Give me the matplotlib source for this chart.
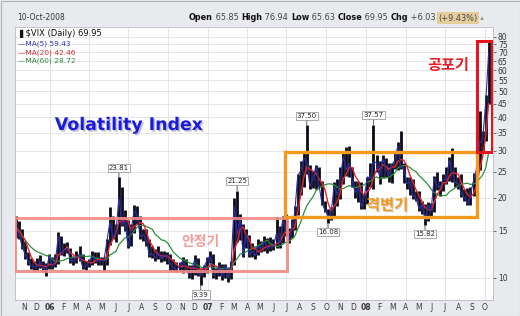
import numpy as np
import pandas as pd
import matplotlib
matplotlib.use('Agg')
import matplotlib.pyplot as plt
import matplotlib.patheffects as pe
from matplotlib.patches import Rectangle

plt.rcParams['font.family'] = ['DejaVu Sans']
KR = ['Noto Sans CJK KR', 'DejaVu Sans']

# weekly VIX bars (week ending Friday)
# 2005: Oct 14 .. Dec 30 (12 weeks)
hi_2005 = [17.0, 16.4, 15.2, 13.8, 12.5, 11.9, 11.6, 11.9, 12.2, 11.6, 11.4, 12.3]
lo_2005 = [14.1, 14.0, 12.8, 11.8, 11.2, 10.8, 10.6, 10.7, 10.9, 10.5, 10.2, 10.8]
cl_2005 = [15.4, 14.7, 13.2, 12.3, 11.6, 11.1, 11.0, 11.0, 11.5, 10.9, 10.6, 12.1]
# 2006 (52 weeks)
hi_2006 = [12.0, 12.3, 14.9, 14.4,
           13.5, 13.6, 13.0, 12.1,
           12.6, 13.2, 12.3, 11.6, 11.8,
           12.6, 12.5, 12.5, 12.0,
           12.0, 14.0, 18.5, 17.0,
           16.0, 23.81, 22.0, 18.0, 16.5,
           16.0, 18.7, 18.6, 17.0,
           15.3, 15.2, 14.0, 13.2,
           12.8, 13.2, 12.6, 12.6, 12.5,
           12.3, 11.8, 11.5, 11.5,
           12.0, 11.8, 11.2, 11.2,
           12.2, 11.9, 10.9, 11.2, 12.0]
lo_2006 = [10.8, 11.0, 11.3, 12.2,
           12.1, 12.4, 11.4, 11.2,
           11.4, 11.6, 10.8, 10.7, 11.0,
           11.2, 11.4, 11.2, 11.2,
           10.6, 11.2, 13.3, 14.0,
           13.6, 14.6, 15.6, 15.0, 12.9,
           13.2, 14.8, 16.0, 14.0,
           13.8, 13.2, 12.0, 11.9,
           11.6, 11.8, 11.5, 11.6, 11.3,
           10.6, 10.6, 10.5, 10.6,
           10.4, 10.6, 10.0, 9.9,
           10.3, 10.2, 9.39, 10.1, 10.4]
cl_2006 = [11.1, 11.5, 14.3, 12.4,
           12.7, 12.9, 11.6, 11.6,
           11.9, 12.3, 11.0, 11.1, 11.4,
           12.0, 11.8, 11.6, 11.6,
           11.6, 13.6, 16.2, 14.3,
           14.7, 20.0, 15.8, 16.4, 13.1,
           15.0, 17.8, 17.4, 14.3,
           14.5, 14.0, 12.2, 12.3,
           11.9, 12.4, 11.8, 12.2, 12.0,
           11.3, 10.9, 10.8, 11.0,
           11.6, 10.9, 10.3, 10.7,
           11.7, 10.5, 10.2, 10.9, 11.6]
# 2007 (52 weeks)
hi_2007 = [12.6, 12.3, 10.9, 11.5,
           11.3, 11.3, 11.0, 11.6,
           20.0, 21.25, 17.3, 16.0, 15.3,
           14.5, 13.5, 13.2, 14.0,
           13.8, 14.4, 14.1, 14.2,
           14.0, 16.9, 15.6, 17.0, 17.3,
           15.4, 16.7, 18.6, 24.5,
           27.5, 30.0, 37.50, 26.5, 25.2,
           26.5, 26.0, 23.0, 19.5,
           18.2, 18.5, 22.8, 23.5,
           26.0, 29.5, 31.0, 31.1, 26.0,
           23.1, 23.0, 22.9, 20.6]
lo_2007 = [11.4, 10.0, 9.9, 10.2,
           9.8, 10.0, 9.7, 9.9,
           11.2, 13.7, 13.9, 12.0, 13.0,
           12.0, 12.0, 11.8, 12.2,
           12.5, 12.6, 12.4, 12.6,
           12.7, 13.0, 13.0, 13.5, 14.4,
           13.5, 14.1, 15.1, 17.2,
           20.5, 22.0, 24.5, 21.5, 21.8,
           21.5, 21.9, 18.7, 17.6,
           16.08, 16.5, 17.1, 18.6,
           19.7, 22.5, 24.2, 24.0, 22.0,
           20.0, 19.2, 18.1, 18.2]
cl_2007 = [12.1, 10.2, 10.4, 11.1,
           10.1, 11.1, 10.0, 11.1,
           18.6, 14.5, 16.8, 12.2, 14.6,
           12.2, 12.6, 12.1, 13.2,
           12.9, 13.7, 12.9, 13.1,
           13.1, 14.7, 13.3, 16.4, 15.2,
           13.9, 15.2, 17.5, 24.2,
           25.2, 28.2, 27.0, 22.1, 23.4,
           26.2, 22.4, 19.0, 18.0,
           17.0, 17.4, 22.0, 20.5,
           23.2, 28.5, 25.5, 26.8, 22.9,
           20.9, 21.9, 18.5, 20.3]
# 2008: Jan 4 .. Oct 10 (41 weeks)
hi_2008 = [24.0, 27.0, 37.57, 29.0,
           27.5, 29.0, 28.2, 27.0, 27.0,
           29.5, 32.3, 35.6, 27.0,
           24.0, 24.0, 23.5, 21.2,
           21.2, 19.5, 19.0, 19.3, 19.1,
           24.2, 25.0, 23.1, 24.5,
           26.0, 28.5, 30.8, 26.0,
           24.0, 24.5, 21.5, 21.8, 21.9,
           24.8, 26.0, 42.2, 35.5,
           48.4, 76.94]
lo_2008 = [19.0, 22.0, 21.5, 25.0,
           22.5, 23.7, 24.0, 22.8, 22.7,
           25.7, 25.4, 25.5, 22.6,
           21.5, 20.5, 19.7, 19.5,
           17.8, 17.3, 15.82, 16.3, 17.0,
           17.6, 21.3, 20.3, 21.2,
           22.5, 23.1, 22.9, 22.0,
           21.5, 20.1, 19.5, 18.8, 18.8,
           20.3, 22.1, 25.3, 29.7,
           32.6, 45.0]
cl_2008 = [23.9, 23.7, 27.2, 27.1,
           24.0, 28.0, 25.9, 24.1, 26.5,
           27.5, 31.2, 26.0, 25.7,
           22.5, 23.0, 20.3, 20.0,
           18.2, 18.8, 16.5, 18.7, 17.8,
           23.6, 22.2, 21.9, 23.4,
           23.4, 27.5, 24.9, 22.8,
           22.6, 20.7, 20.0, 19.0, 20.6,
           23.1, 25.7, 32.1, 32.8,
           45.1, 69.95]

weeks = pd.date_range('2005-10-14', '2008-10-10', freq='W-FRI')
vix_hi = np.array(hi_2005 + hi_2006 + hi_2007 + hi_2008)
vix_lo = np.array(lo_2005 + lo_2006 + lo_2007 + lo_2008)
vix_cl = pd.Series(cl_2005 + cl_2006 + cl_2007 + cl_2008, index=weeks)

# moving averages (in weeks: 5d ~ 1w, 20d ~ 4w, 60d ~ 12w)
ma5 = vix_cl.rolling(1).mean()
ma20 = vix_cl.rolling(4, min_periods=1).mean()
ma60 = vix_cl.rolling(12, min_periods=1).mean()

# labelled extremes
peaks = [('2006-06-09', 23.81), ('2007-03-09', 21.25), ('2007-08-17', 37.50), ('2008-01-18', 37.57)]
troughs = [('2006-12-15', 9.39), ('2007-10-05', 16.08), ('2008-05-16', 15.82)]

yticks = [10, 15, 20, 25, 30, 35, 40, 45, 50, 55, 60, 65, 70, 75, 80]
months = pd.date_range('2005-11-01', '2008-10-01', freq='MS')
quarters = [m for m in months if m.month in (1, 4, 7, 10)]

W, H = 520, 316
fig = plt.figure(figsize=(W / 100, H / 100), dpi=100, facecolor='#e8eaed')
ax = fig.add_axes([15 / W, 16 / H, 478 / W, 273 / H])
ax.set_facecolor('white')
fig.add_artist(Rectangle((0.5 / W, 0.5 / H), 1 - 1.0 / W, 1 - 1.0 / H, transform=fig.transFigure,
                         fill=False, ec='#b0b4ba', lw=0.8))


def px(x, y):
    return x / W, 1 - y / H


# grid
for q in quarters:
    ax.axvline(q, color='#e2e2e2', lw=0.6, zorder=0)
ax.set_yscale('log')
ax.set_ylim(8.27, 87.2)
ax.set_xlim(pd.Timestamp('2005-10-12'), pd.Timestamp('2008-10-20'))
ax.yaxis.tick_right()
ax.set_yticks(yticks)
ax.set_yticklabels([str(t) for t in yticks])
ax.yaxis.set_minor_locator(matplotlib.ticker.NullLocator())
ax.grid(axis='y', color='#e2e2e2', lw=0.6, zorder=0)
ax.tick_params(axis='y', length=2.5, width=0.6, pad=1, labelsize=5.5,
               colors='#555555', labelcolor='#333333')

ax.set_xticks(months)
ax.set_xticklabels([m.strftime('%y') if m.month == 1 else m.strftime('%b')[0] for m in months])
for lab, m in zip(ax.get_xticklabels(), months):
    if m.month == 1:
        lab.set_fontweight('bold')
ax.tick_params(axis='x', length=0, pad=2.5, labelsize=5.5, labelcolor='#3a3a3a')
for s in ax.spines.values():
    s.set_color('#b8bcc2')
    s.set_linewidth(0.6)

# price bars and averages
ax.vlines(weeks, vix_lo, vix_hi, color='#0a0a1a', lw=2.0, zorder=2)
ax.plot(weeks, ma60, color='#2f8f3a', lw=0.9, zorder=3)
ax.plot(weeks, ma20, color='#e8262a', lw=1.0, zorder=4)
ax.plot(weeks, ma5, color='#2b2bb0', lw=0.8, zorder=5)

lab_box = dict(boxstyle='square,pad=0.15', fc='white', ec='#8a8a8a', lw=0.5)
for d, v in peaks:
    ax.annotate(f'{v:.2f}', xy=(pd.Timestamp(d), v), xytext=(0, 4.5), textcoords='offset points',
                ha='center', va='bottom', fontsize=5, color='#222222', bbox=lab_box,
                arrowprops=dict(arrowstyle='-', color='#444444', lw=0.6, shrinkA=0, shrinkB=0), zorder=6)
for d, v in troughs:
    ax.annotate(f'{v:.2f}', xy=(pd.Timestamp(d), v), xytext=(0, -4.5), textcoords='offset points',
                ha='center', va='top', fontsize=5, color='#222222', bbox=lab_box,
                arrowprops=dict(arrowstyle='-', color='#444444', lw=0.6, shrinkA=0, shrinkB=0), zorder=6)

# regime boxes
ax.add_patch(Rectangle((pd.Timestamp('2005-10-12'), 10.6),
                       pd.Timestamp('2007-07-02') - pd.Timestamp('2005-10-12'), 16.8 - 10.6,
                       fill=False, ec='#f28a84', lw=2.2, alpha=0.9, zorder=7))
ax.add_patch(Rectangle((pd.Timestamp('2007-06-27'), 16.9),
                       pd.Timestamp('2008-09-13') - pd.Timestamp('2007-06-27'), 29.7 - 16.9,
                       fill=False, ec='#f39a1e', lw=2.4, zorder=7))
ax.add_patch(Rectangle((pd.Timestamp('2008-09-13'), 29.7),
                       pd.Timestamp('2008-10-18') - pd.Timestamp('2008-09-13'), 77.4 - 29.7,
                       fill=False, ec='#e8141c', lw=2.2, zorder=8))

# annotations in Korean
fig.text(*px(201, 242), '안정기', family=KR, fontsize=10, fontweight='bold', color='#f28a84',
         ha='center', va='center', alpha=0.85)
fig.text(*px(387, 205), '격변기', family=KR, fontsize=11, fontweight='bold', color='#f39a1e',
         ha='center', va='center',
         path_effects=[pe.withSimplePatchShadow(offset=(0.8, -0.8), shadow_rgbFace='#a0a0a0', alpha=0.5)])
fig.text(*px(448, 65), '공포기', family=KR, fontsize=11, fontweight='bold', color='#e31e24',
         ha='center', va='center')

fig.text(*px(129, 125), 'Volatility Index', fontsize=12.5, fontweight='bold', color='#1b1be0',
         ha='center', va='center',
         path_effects=[pe.withSimplePatchShadow(offset=(1.2, -1.2), shadow_rgbFace='#9a9aa8', alpha=0.6)])

# legend block
fig.text(*px(19, 33), '\u258c$VIX (Daily) 69.95', fontsize=6, color='#111111', va='center')
fig.text(*px(18, 44), '\u2014MA(5) 59.43', fontsize=5.3, color='#3030c8', va='center')
fig.text(*px(18, 52.5), '\u2014MA(20) 42.46', fontsize=5.3, color='#e02828', va='center')
fig.text(*px(18, 61), '\u2014MA(60) 28.72', fontsize=5.3, color='#2a8a38', va='center')

# header
fig.text(*px(17, 18), '10-Oct-2008', fontsize=5.5, color='#333333', va='center')
parts = [('Open', True), (' 65.85 ', False), ('High', True), (' 76.94 ', False), ('Low', True),
         (' 65.63 ', False), ('Close', True), (' 69.95 ', False), ('Chg', True), (' +6.03 ', False)]
prev = fig.text(*px(189, 18), '', fontsize=6, va='center')
for s, b in parts:
    prev = ax.annotate(s, xy=(1, 0.5), xycoords=prev, va='center', ha='left', fontsize=5.9,
                       fontweight='bold' if b else 'normal', color='#111111' if b else '#444444',
                       annotation_clip=False)
prev = ax.annotate('(+9.43%)', xy=(1, 0.5), xycoords=prev, va='center', ha='left', fontsize=5.9,
                   color='#444444', annotation_clip=False,
                   bbox=dict(boxstyle='square,pad=0.15', fc='#e6cd9c', ec='none'))
ax.annotate(' \u25b4', xy=(1, 0.5), xycoords=prev, va='center', ha='left', fontsize=5,
            color='#7a9a6a', annotation_clip=False)

fig.savefig('out.png', dpi=100, facecolor=fig.get_facecolor())
